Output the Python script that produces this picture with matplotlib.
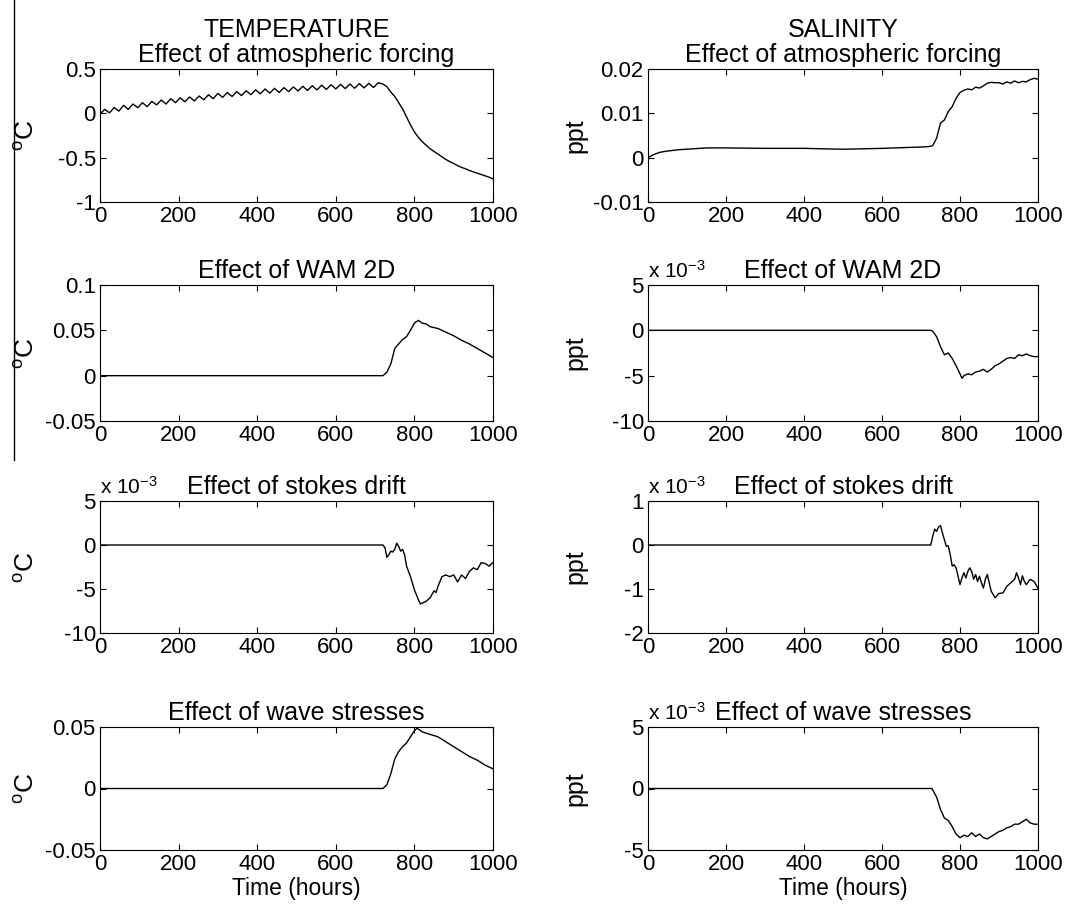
import matplotlib
matplotlib.use('Agg')
import matplotlib.pyplot as plt
from matplotlib.lines import Line2D

plt.rcParams['font.family'] = ['Liberation Sans', 'DejaVu Sans']
plt.rcParams['mathtext.fontset'] = 'custom'
plt.rcParams['mathtext.rm'] = 'Liberation Sans'
plt.rcParams['mathtext.it'] = 'Liberation Sans:italic'
plt.rcParams['axes.unicode_minus'] = False

# --- temperature: atmospheric forcing (deg C), diurnal zigzag then cooling ---
temp_atm_t = [0, 12, 24, 36, 48, 60, 72, 84, 96, 108, 120, 132, 144, 156, 168, 180,
              192, 204, 216, 228, 240, 252, 264, 276, 288, 300, 312, 324, 336, 348,
              360, 372, 384, 396, 408, 420, 432, 444, 456, 468, 480, 492, 504, 516,
              528, 540, 552, 564, 576, 588, 600, 612, 624, 636, 648, 660, 672, 684,
              696, 708, 720, 730, 740, 750, 760, 770, 780, 790, 800, 810, 820, 830,
              840, 850, 860, 870, 880, 890, 900, 910, 920, 930, 940, 950, 960, 970,
              980, 990, 1000]
temp_atm_v = [-0.01, 0.045, 0.005, 0.065, 0.025, 0.09, 0.045, 0.105, 0.063, 0.12, 0.075,
              0.135, 0.095, 0.15, 0.105, 0.165, 0.12, 0.175, 0.13, 0.185, 0.14, 0.195,
              0.153, 0.21, 0.165, 0.225, 0.18, 0.235, 0.19, 0.245, 0.2, 0.255, 0.21,
              0.265, 0.22, 0.275, 0.228, 0.282, 0.235, 0.29, 0.245, 0.298, 0.252, 0.305,
              0.258, 0.311, 0.264, 0.317, 0.27, 0.322, 0.275, 0.327, 0.279, 0.331, 0.283,
              0.335, 0.287, 0.339, 0.291, 0.345, 0.33, 0.30, 0.24, 0.19, 0.12, 0.05,
              -0.04, -0.13, -0.21, -0.27, -0.32, -0.36, -0.40, -0.43, -0.46, -0.49,
              -0.52, -0.545, -0.565, -0.59, -0.61, -0.625, -0.645, -0.66, -0.675,
              -0.69, -0.705, -0.72, -0.74]

# --- salinity: atmospheric forcing (ppt) ---
sal_atm_t = [0, 15, 30, 50, 80, 150, 200, 300, 400, 500, 550, 600, 700, 720, 730, 740,
             750, 760, 770, 780, 790, 800, 810, 820, 830, 840, 850, 860, 870, 880, 890,
             900, 910, 920, 930, 940, 950, 960, 970, 980, 990, 1000]
sal_atm_v = [0.0, 0.0007, 0.0012, 0.0015, 0.0018, 0.0022, 0.0022, 0.0021, 0.0021, 0.0019,
             0.002, 0.0021, 0.0024, 0.0025, 0.0027, 0.0044, 0.0078, 0.0085, 0.0104,
             0.0115, 0.0134, 0.0147, 0.0152, 0.0155, 0.0153, 0.0159, 0.0157, 0.0162,
             0.0168, 0.017, 0.0169, 0.0169, 0.0166, 0.0171, 0.0168, 0.0173, 0.0169,
             0.0172, 0.0171, 0.0176, 0.0179, 0.0177]

# --- temperature: WAM 2D (deg C) ---
temp_wam_t = [0, 720, 730, 740, 750, 760, 770, 780, 790, 800, 810, 820, 830, 840, 850,
              860, 870, 880, 890, 900, 920, 940, 960, 980, 1000]
temp_wam_v = [0.0, 0.0, 0.004, 0.013, 0.03, 0.035, 0.04, 0.043, 0.05, 0.058, 0.061,
              0.058, 0.057, 0.054, 0.053, 0.052, 0.05, 0.048, 0.046, 0.044, 0.039,
              0.035, 0.03, 0.025, 0.02]

# --- salinity: WAM 2D (x 10^-3 ppt) ---
sal_wam_t = [0, 725, 730, 740, 750, 760, 770, 780, 790, 800, 805, 810, 820, 830, 840,
             850, 860, 870, 880, 890, 900, 910, 920, 930, 940, 950, 960, 970, 980, 990,
             1000]
sal_wam_v = [0.0, 0.0, -0.1, -0.7, -1.8, -2.7, -2.5, -3.1, -3.9, -4.8, -5.3, -5.0, -4.8,
             -4.9, -4.6, -4.5, -4.3, -4.6, -4.3, -3.9, -3.7, -3.4, -3.1, -3.0, -3.1,
             -2.7, -2.8, -2.6, -2.8, -2.9, -2.9]

# --- temperature: stokes drift (x 10^-3 deg C) ---
temp_stk_t = [0, 720, 725, 730, 735, 740, 745, 750, 755, 760, 765, 770, 775, 780, 790,
              800, 810, 815, 820, 830, 840, 850, 855, 860, 870, 880, 890, 900, 910, 920,
              930, 940, 950, 960, 970, 980, 990, 1000]
temp_stk_v = [0.0, 0.0, -0.3, -1.4, -1.1, -0.7, -0.8, -0.5, 0.2, -0.15, -0.7, -0.5, -1.1,
              -2.4, -3.6, -5.1, -6.2, -6.7, -6.6, -6.4, -6.0, -5.2, -5.4, -4.7, -3.6,
              -3.4, -3.6, -3.4, -4.2, -3.4, -3.8, -3.0, -2.6, -2.8, -2.0, -2.1, -2.4,
              -2.0]

# --- salinity: stokes drift (x 10^-3 ppt) ---
sal_stk_t = [0, 725, 730, 735, 740, 745, 750, 755, 760, 765, 770, 775, 780, 785, 790,
             795, 800, 805, 810, 815, 820, 825, 830, 835, 840, 845, 850, 855, 860, 865,
             870, 875, 880, 890, 900, 910, 920, 930, 940, 945, 950, 955, 960, 965, 970,
             980, 990, 1000]
sal_stk_v = [0.0, 0.0, 0.2, 0.36, 0.31, 0.41, 0.44, 0.27, 0.12, -0.03, -0.02, -0.22,
             -0.48, -0.45, -0.52, -0.71, -0.9, -0.75, -0.63, -0.75, -0.6, -0.52, -0.6,
             -0.78, -0.67, -0.83, -0.71, -0.86, -0.98, -0.78, -0.67, -0.86, -1.05,
             -1.2, -1.1, -1.09, -0.94, -0.86, -0.78, -0.63, -0.75, -0.9, -0.7, -0.83,
             -0.9, -0.78, -0.83, -0.98]

# --- temperature: wave stresses (deg C) ---
temp_wav_t = [0, 720, 730, 740, 750, 760, 770, 780, 790, 800, 807, 820, 840, 860, 880,
              900, 920, 940, 960, 980, 1000]
temp_wav_v = [0.0, 0.0, 0.003, 0.012, 0.024, 0.03, 0.034, 0.037, 0.042, 0.047, 0.049,
              0.046, 0.044, 0.042, 0.038, 0.034, 0.030, 0.026, 0.023, 0.019, 0.016]

# --- salinity: wave stresses (x 10^-3 ppt) ---
sal_wav_t = [0, 728, 740, 750, 760, 770, 780, 790, 800, 810, 820, 830, 840, 850, 860,
             870, 880, 890, 900, 910, 920, 930, 940, 950, 960, 970, 980, 990, 1000]
sal_wav_v = [0.0, 0.0, -0.7, -1.7, -2.4, -2.6, -3.1, -3.7, -4.0, -3.8, -3.9, -3.6, -3.9,
             -3.7, -4.0, -4.1, -3.9, -3.7, -3.5, -3.4, -3.2, -3.1, -2.9, -2.9, -2.7,
             -2.5, -2.8, -2.9, -2.9]

xticks = [0, 200, 400, 600, 800, 1000]

panels = [
    # (t, v, ylim, yticks, title, ylabel, x10^-3)
    (temp_atm_t, temp_atm_v, (-1, 0.5), [-1, -0.5, 0, 0.5],
     'TEMPERATURE\nEffect of atmospheric forcing', 'degC', False),
    (sal_atm_t, sal_atm_v, (-0.01, 0.02), [-0.01, 0, 0.01, 0.02],
     'SALINITY\nEffect of atmospheric forcing', 'ppt', False),
    (temp_wam_t, temp_wam_v, (-0.05, 0.1), [-0.05, 0, 0.05, 0.1],
     'Effect of WAM 2D', 'degC', False),
    (sal_wam_t, sal_wam_v, (-10, 5), [-10, -5, 0, 5],
     'Effect of WAM 2D', 'ppt', True),
    (temp_stk_t, temp_stk_v, (-10, 5), [-10, -5, 0, 5],
     'Effect of stokes drift', 'degC', True),
    (sal_stk_t, sal_stk_v, (-2, 1), [-2, -1, 0, 1],
     'Effect of stokes drift', 'ppt', True),
    (temp_wav_t, temp_wav_v, (-0.05, 0.05), [-0.05, 0, 0.05],
     'Effect of wave stresses', 'degC', False),
    (sal_wav_t, sal_wav_v, (-5, 5), [-5, 0, 5],
     'Effect of wave stresses', 'ppt', True),
]

W, H = 1084, 909
fig = plt.figure(figsize=(W / 100, H / 100), dpi=100)

col_x = [(100, 493), (648, 1038)]
row_y = [(69, 202), (285, 421), (501, 633), (727, 850)]

for k, (t, v, ylim, yticks, title, ylab, mult) in enumerate(panels):
    r, c = divmod(k, 2)
    x0, x1 = col_x[c]
    y0, y1 = row_y[r]
    ax = fig.add_axes([x0 / W, 1 - y1 / H, (x1 - x0) / W, (y1 - y0) / H])
    ax.plot(t, v, color='black', lw=1.0)
    ax.set_xlim(0, 1000)
    ax.set_ylim(*ylim)
    ax.set_xticks(xticks)
    ax.set_yticks(yticks)
    ax.set_yticklabels(['%g' % y for y in yticks])
    ax.tick_params(direction='in', top=True, right=True, length=4, width=0.8,
                   labelsize=16, pad=3)
    for s in ax.spines.values():
        s.set_linewidth(0.8)
    ax.set_title(title, fontsize=18, pad=5, linespacing=1.05)
    if ylab == 'degC':
        ax.set_ylabel(r'$^{\rm o}$C', fontsize=19)
    else:
        ax.set_ylabel('ppt', fontsize=18)
    ax.yaxis.set_label_coords(-0.155, 0.5)
    if mult:
        ax.text(0.0, 1.025, r'x 10$^{-3}$', transform=ax.transAxes,
                ha='left', va='bottom', fontsize=15)
    if r == 3:
        ax.set_xlabel('Time (hours)', fontsize=16.5, labelpad=1)

# stray vertical rule at the left edge of the scanned page
fig.add_artist(Line2D([14 / W, 14 / W], [1, 1 - 460 / H], color='black', lw=1.0))

fig.savefig('out.png', dpi=100)
